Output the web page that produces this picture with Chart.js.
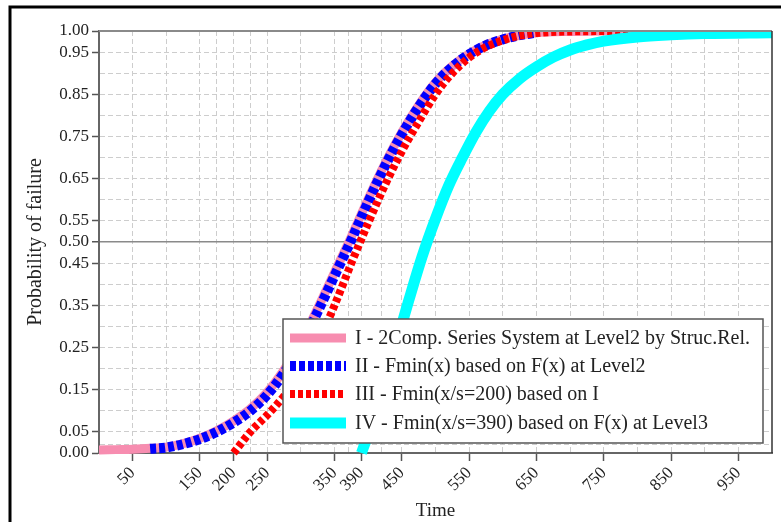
<!DOCTYPE html>
<html><head><meta charset="utf-8">
<script src="https://cdn.jsdelivr.net/npm/chart.js@4/dist/chart.umd.min.js"></script>
<style>html,body{margin:0;padding:0;background:#fff}#wrap{width:781px;height:522px;position:relative}</style>
</head><body><div id="wrap"><canvas id="c" width="781" height="522"></canvas></div>
<script>
// ---- data ----
const seriesNames = [
  'I - 2Comp. Series System at Level2 by Struc.Rel.',
  'II - Fmin(x) based on F(x) at Level2',
  'III - Fmin(x/s=200) based on I',
  'IV - Fmin(x/s=390) based on F(x) at Level3'
];
const timeI = [0,25,50,76,100,125,150,175,200,225,250,275,300,325,350,375,400,425,450,475,500,525,550,575,600,625,650,700,750,800,900,1000];
const probI = [0.007,0.008,0.009,0.011,0.014,0.022,0.035,0.053,0.076,0.105,0.144,0.197,0.263,0.343,0.428,0.513,0.602,0.686,0.760,0.824,0.878,0.917,0.946,0.967,0.981,0.990,0.996,0.999,1.0,1.0,1.0,1.0];
const timeII = [76,100,125,150,175,200,225,250,275,300,325,350,375,400,425,450,475,500,525,550,575,600,625,650];
const probII = [0.010,0.013,0.021,0.033,0.050,0.072,0.100,0.138,0.190,0.255,0.335,0.420,0.505,0.595,0.680,0.755,0.820,0.875,0.915,0.945,0.966,0.980,0.990,0.996];
const timeIII = [200,225,250,275,300,325,350,375,400,425,450,475,500,525,550,575,600,625,650,700,790];
const probIII = [0.000,0.050,0.090,0.135,0.190,0.260,0.350,0.450,0.545,0.635,0.715,0.785,0.850,0.900,0.937,0.962,0.978,0.989,0.995,0.999,1.0];
const timeIV = [390,400,420,440,460,480,500,520,540,560,580,600,625,650,675,700,725,750,800,850,900,1000];
const probIV = [0.000,0.045,0.145,0.250,0.360,0.465,0.555,0.635,0.700,0.760,0.810,0.850,0.887,0.915,0.938,0.955,0.967,0.976,0.986,0.991,0.994,0.996];

const xGridTicks = [50,100,150,175,200,225,250,300,350,370,390,420,450,500,550,600,650,700,750,800,850,900,950];
const xTickLabels = [50,150,200,250,350,390,450,550,650,750,850,950];
const yGridTicks = [0,0.02,0.05,0.10,0.15,0.20,0.25,0.30,0.35,0.40,0.45,0.50,0.55,0.60,0.65,0.70,0.75,0.80,0.85,0.90,0.95,1.00];
const yTickLabels = [0,0.05,0.15,0.25,0.35,0.45,0.50,0.55,0.65,0.75,0.85,0.95,1.00];

const near = (arr, v) => arr.some(a => Math.abs(a - v) < 1e-9);
const pts = (xs, ys) => xs.map((x, i) => ({x: x, y: ys[i]}));
const FONT = 'Liberation Serif';

const frameAndLegend = {
  id: 'frameAndLegend',
  afterDraw(chart) {
    const ctx = chart.ctx, ca = chart.chartArea;
    ctx.save();
    // top and right border of the plot
    ctx.lineWidth = 2; ctx.strokeStyle = '#8a8a8a';
    ctx.beginPath(); ctx.moveTo(ca.left, ca.top); ctx.lineTo(ca.right, ca.top); ctx.stroke();
    ctx.lineWidth = 1.5; ctx.strokeStyle = '#333';
    ctx.beginPath(); ctx.moveTo(ca.right, ca.top); ctx.lineTo(ca.right, ca.bottom); ctx.stroke();
    // legend
    const bx = 283, by = 319, bw = 480, bh = 124;
    ctx.fillStyle = '#fff'; ctx.fillRect(bx, by, bw, bh);
    ctx.lineWidth = 1.5; ctx.strokeStyle = '#555'; ctx.strokeRect(bx, by, bw, bh);
    const rows = [338, 366, 394, 423];
    chart.data.datasets.forEach((ds, i) => {
      const y = rows[i];
      ctx.save();
      ctx.strokeStyle = ds.borderColor; ctx.lineWidth = ds.borderWidth;
      ctx.setLineDash(ds.borderDash || []); ctx.lineCap = 'butt';
      ctx.beginPath(); ctx.moveTo(290, y); ctx.lineTo(346, y); ctx.stroke();
      ctx.restore();
      ctx.fillStyle = '#222'; ctx.font = '20px "' + FONT + '"';
      ctx.textBaseline = 'middle'; ctx.textAlign = 'left';
      ctx.fillText(ds.label, 355, y + 1);
    });
    // outer black frame
    ctx.lineWidth = 3; ctx.strokeStyle = '#000';
    ctx.strokeRect(10, 7, 800, 560);
    ctx.restore();
  }
};

const clipArea = {left: 0, top: 0, right: 0, bottom: 6};
new Chart(document.getElementById('c'), {
  type: 'line',
  data: {
    datasets: [
      {label: seriesNames[0], data: pts(timeI, probI), borderColor: '#f78db0', borderWidth: 9, order: 4},
      {label: seriesNames[1], data: pts(timeII, probII), borderColor: '#0000ff', borderWidth: 10, borderDash: [6, 3], order: 3},
      {label: seriesNames[2], data: pts(timeIII, probIII), borderColor: '#ff0000', borderWidth: 8, borderDash: [5, 3], order: 2},
      {label: seriesNames[3], data: pts(timeIV, probIV), borderColor: '#00ffff', borderWidth: 11, order: 1}
    ].map(d => Object.assign(d, {pointRadius: 0, fill: false, cubicInterpolationMode: 'monotone', borderCapStyle: 'butt', clip: clipArea}))
  },
  plugins: [frameAndLegend],
  options: {
    responsive: false, animation: false, devicePixelRatio: 1,
    layout: {padding: {left: 0, right: 9, top: 31, bottom: 0}},
    plugins: {legend: {display: false}, tooltip: {enabled: false}},
    scales: {
      x: {
        type: 'linear', min: 0, max: 1000,
        afterBuildTicks: s => { s.ticks = xGridTicks.map(v => ({value: v})); },
        afterFit: s => { s.height = 69; },
        ticks: {
          autoSkip: false, minRotation: 45, maxRotation: 45, padding: 2,
          font: {family: FONT, size: 17}, color: '#222',
          callback: v => near(xTickLabels, v) ? String(v) : ''
        },
        grid: {
          color: '#cdcdcd', lineWidth: 1, tickLength: 8, tickWidth: 1.5,
          tickColor: c => (c.tick && near(xTickLabels, c.tick.value)) ? '#555' : 'rgba(0,0,0,0)'
        },
        border: {color: '#666', width: 2, dash: [5, 3]},
        title: {display: true, text: 'Time', font: {family: FONT, size: 19}, color: '#222', padding: {top: 0, bottom: 0}}
      },
      y: {
        type: 'linear', min: 0, max: 1,
        afterBuildTicks: s => { s.ticks = yGridTicks.map(v => ({value: v})); },
        afterFit: s => { s.width = 99; },
        ticks: {
          autoSkip: false, padding: 3,
          font: {family: FONT, size: 17}, color: '#222',
          callback: v => near(yTickLabels, v) ? v.toFixed(2) : ''
        },
        grid: {
          color: c => {
            if (!c.tick) return '#cdcdcd';
            const v = c.tick.value;
            if (Math.abs(v - 0.5) < 1e-9) return '#8a8a8a';
            if (v < 1e-9 || v > 1 - 1e-9) return 'rgba(0,0,0,0)';
            return '#cdcdcd';
          },
          lineWidth: c => (c.tick && Math.abs(c.tick.value - 0.5) < 1e-9) ? 1.5 : 1,
          tickLength: 7, tickWidth: 1.5,
          tickColor: c => (c.tick && near(yTickLabels, c.tick.value)) ? '#555' : 'rgba(0,0,0,0)'
        },
        border: {color: '#666', width: 2, dash: c => (c.tick && Math.abs(c.tick.value - 0.5) < 1e-9) ? [] : [5, 3]},
        title: {display: true, text: 'Probability of failure', font: {family: FONT, size: 20}, color: '#222', padding: {top: 24, bottom: 0}}
      }
    }
  }
});
</script></body></html>
